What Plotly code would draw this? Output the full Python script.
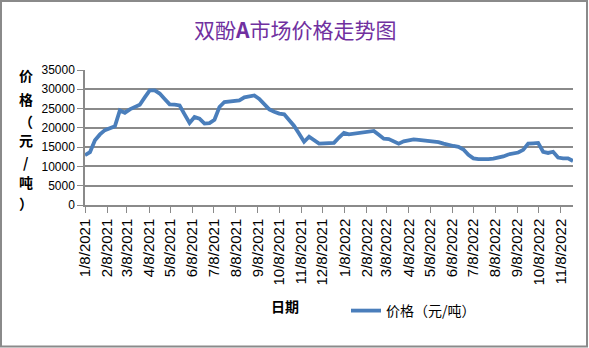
import pandas as pd
import plotly.graph_objects as go

# ---- data ----
start_date = "2021-01-08"
n_weeks = 99
prices = [
    12900, 13700, 16800, 18300, 19400, 19900, 20400, 24500, 23900, 24800,
    25300, 26000, 27900, 29700, 29700, 28900, 27500, 26100, 26000, 25800,
    23500, 21250, 22800, 22400, 21100, 21250, 22100, 25400, 26700, 26900,
    27000, 27100, 27900, 28200, 28400, 27500, 26200, 24800, 24200, 23700,
    23500, 22000, 20500, 18500, 16400, 17700, 16700, 15900, 16000, 16100,
    16100, 17500, 18700, 18300, 18500, 18700, 18900, 19000, 19200, 18200,
    17200, 17100, 16500, 15900, 16500, 16800, 17000, 16900, 16800, 16700,
    16600, 16300, 15900, 15500, 15300, 15100, 14400, 13000, 12100, 11900,
    11800, 11900, 12000, 12200, 12600, 13100, 13400, 13600, 14300, 15900,
    16000, 16100, 13800, 13500, 13800, 12300, 12100, 12100, 11400,
]
tick_dates = pd.date_range("2021-01-01", "2022-11-01", freq="MS") + pd.Timedelta(days=7)
tick_labels = [f"{d.month}/{d.day}/{d.year}" for d in tick_dates]
title_text = "双酚<b>A</b>市场价格走势图"
y_title_chars = ["价", "格", "（", "元", "/", "吨", "）"]
x_title = "<b>日期</b>"
series_name = "价格（元/吨）"

dates = pd.date_range(start_date, periods=n_weeks, freq="7D")

# ---- layout geometry (pixels) ----
W, H = 589, 348
ml, mr, mt, mb = 85, 16, 70, 143
pw, ph = W - ml - mr, H - mt - mb


def px_to_paper_x(px):
    return (px - ml) / pw


def px_to_paper_y(py):
    return (H - mb - py) / ph


fig = go.Figure()
fig.add_trace(go.Scatter(
    x=dates, y=prices, mode="lines", name=series_name,
    line=dict(color="#4A7EBB", width=3.8),
))

annotations = []
ychar_pos = [75, 99, 121, 140, 162, 182, 203]
for ch, py in zip(y_title_chars, ychar_pos):
    annotations.append(dict(
        text="<b>" + ch + "</b>", x=px_to_paper_x(26), y=px_to_paper_y(py),
        xref="paper", yref="paper",
        showarrow=False, xanchor="center", yanchor="middle",
        font=dict(family="Noto Sans CJK SC", size=14, color="#000000"),
    ))
annotations.append(dict(
    text=x_title, x=px_to_paper_x(285), y=px_to_paper_y(306), xref="paper", yref="paper",
    showarrow=False, xanchor="center", yanchor="middle",
    font=dict(family="Noto Sans CJK SC", size=14, color="#000000"),
))
annotations.append(dict(
    text=title_text, x=px_to_paper_x(294.5), y=px_to_paper_y(29), xref="paper", yref="paper",
    showarrow=False, xanchor="center", yanchor="middle",
    font=dict(family="Noto Sans CJK SC", size=21, color="#7030A0"),
))

fig.update_layout(
    width=W, height=H,
    margin=dict(l=ml, r=mr, t=mt, b=mb, autoexpand=False),
    paper_bgcolor="white", plot_bgcolor="white",
    showlegend=True,
    legend=dict(
        x=px_to_paper_x(346), y=px_to_paper_y(311), xanchor="left", yanchor="middle",
        font=dict(family="Noto Sans CJK SC", size=14, color="#000000"),
        bgcolor="rgba(0,0,0,0)", itemwidth=30,
    ),
    annotations=annotations,
    shapes=[dict(
        type="rect", xref="paper", yref="paper",
        x0=px_to_paper_x(1), x1=px_to_paper_x(587),
        y0=px_to_paper_y(346.5), y1=px_to_paper_y(1),
        line=dict(color="#8a8a8a", width=2), fillcolor="rgba(0,0,0,0)",
    )],
    xaxis=dict(
        type="date", range=[dates[0], dates[-1]],
        tickmode="array", tickvals=list(tick_dates), ticktext=tick_labels,
        tickangle=-90, ticks="outside", ticklen=6, tickcolor="#8a8a8a", tickwidth=1,
        showgrid=False, showline=True, linecolor="#8a8a8a", linewidth=1.5,
        tickfont=dict(family="Liberation Sans", size=15, color="#000000"),
        zeroline=False,
    ),
    yaxis=dict(
        range=[0, 35000], dtick=5000, tickformat="d",
        ticks="outside", ticklen=6, tickcolor="#8a8a8a",
        showgrid=True, gridcolor="#8a8a8a", gridwidth=1.5,
        showline=True, linecolor="#8a8a8a", linewidth=1.5,
        tickfont=dict(family="Liberation Sans", size=12, color="#000000"),
        zeroline=False,
    ),
)

fig.write_html("out.html")
